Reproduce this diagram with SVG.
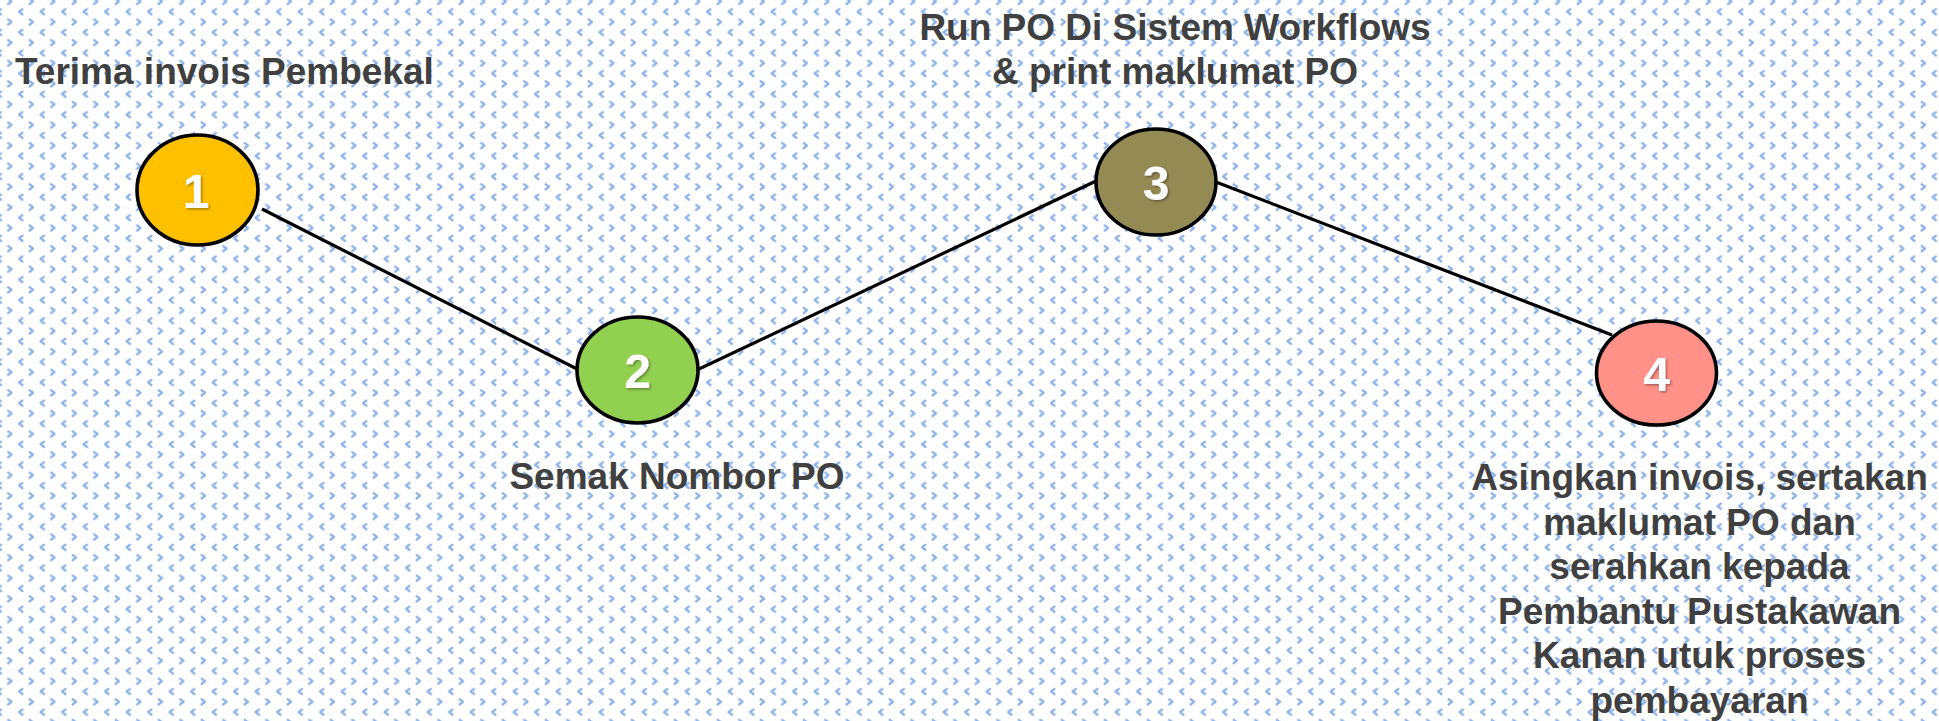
<svg xmlns="http://www.w3.org/2000/svg" width="1939" height="721" viewBox="0 0 1939 721">
<defs>
<pattern id="divot" patternUnits="userSpaceOnUse" x="15.3" y="6.5" width="21.5" height="20.6">
<polyline points="7.2,2.6 3.8,5.2 7.2,7.8" fill="none" stroke="#8db2e8" stroke-width="2.3" stroke-linecap="round" stroke-linejoin="round"/>
<polyline points="14.3,12.9 17.7,15.5 14.3,18.1" fill="none" stroke="#8db2e8" stroke-width="2.3" stroke-linecap="round" stroke-linejoin="round"/>
</pattern>
<filter id="shadow" x="-30%" y="-30%" width="160%" height="160%">
<feDropShadow dx="1.5" dy="1.5" stdDeviation="1" flood-color="#000" flood-opacity="0.35"/>
</filter>
</defs>
<style>
.node{stroke:#000;stroke-width:3.6}
.num{font-family:"Liberation Sans",Arial,sans-serif;font-weight:bold;font-size:48px;fill:#fff;text-anchor:middle;filter:url(#shadow)}
.lbl{font-family:"Liberation Sans",Arial,sans-serif;font-weight:bold;font-size:37px;fill:#404040}
.mid{text-anchor:middle}
.conn{stroke:#000;stroke-width:3.2;fill:none}
</style>
<rect width="1939" height="721" fill="#fff"/>
<rect width="1939" height="721" fill="url(#divot)"/>
<g id="connectors">
<line class="conn" x1="262" y1="209" x2="577" y2="369"/>
<line class="conn" x1="699" y1="369" x2="1096" y2="181"/>
<line class="conn" x1="1216" y1="182" x2="1612" y2="335"/>
</g>
<g id="node1">
<ellipse class="node" cx="197.5" cy="190" rx="60.5" ry="55" fill="#FFC000"/>
<text class="num" x="196" y="208">1</text>
<text class="lbl" x="15" y="84">Terima invois Pembekal</text>
</g>
<g id="node2">
<ellipse class="node" cx="637.5" cy="370" rx="60.5" ry="53" fill="#92D050"/>
<text class="num" x="637.5" y="388">2</text>
<text class="lbl mid" x="677" y="489">Semak Nombor PO</text>
</g>
<g id="node3">
<ellipse class="node" cx="1156" cy="182" rx="60" ry="53" fill="#948A54"/>
<text class="num" x="1156" y="200">3</text>
<text class="lbl mid" x="1175" y="39.5">Run PO Di Sistem Workflows</text>
<text class="lbl mid" x="1175" y="83.5">&amp; print maklumat PO</text>
</g>
<g id="node4">
<ellipse class="node" cx="1656.5" cy="373" rx="60" ry="52" fill="#FF9188"/>
<text class="num" x="1656.5" y="391">4</text>
<text class="lbl mid" x="1699.5" y="490">Asingkan invois, sertakan</text>
<text class="lbl mid" x="1699.5" y="534.5">maklumat PO dan</text>
<text class="lbl mid" x="1699.5" y="579">serahkan kepada</text>
<text class="lbl mid" x="1699.5" y="623.5">Pembantu Pustakawan</text>
<text class="lbl mid" x="1699.5" y="668">Kanan utuk proses</text>
<text class="lbl mid" x="1699.5" y="712.5">pembayaran</text>
</g>
</svg>
